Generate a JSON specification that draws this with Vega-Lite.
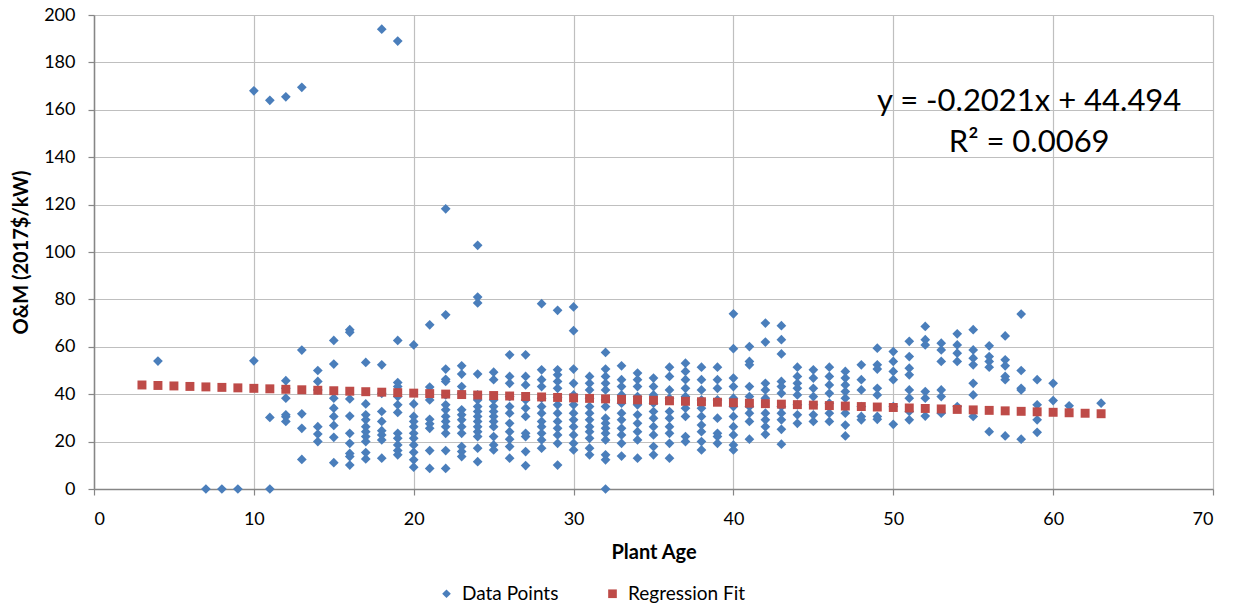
{
  "$schema": "https://vega.github.io/schema/vega-lite/v6.json",
  "width": 1119,
  "height": 474,
  "autosize": {"type": "none"},
  "padding": {"left": 94, "top": 15, "right": 21, "bottom": 116},
  "background": "white",
  "config": {
    "font": "Lato",
    "view": {"stroke": null},
    "axis": {
      "labelFont": "Lato", "labelFontSize": 18, "labelColor": "#000000",
      "titleFont": "Lato", "titleFontSize": 20, "titleFontWeight": "bold", "titleColor": "#000000",
      "gridColor": "#BFBFBF", "gridWidth": 1.2,
      "domainColor": "#868686", "domainWidth": 1.5,
      "tickColor": "#868686", "tickSize": 6, "tickWidth": 1.2,
      "labelPadding": 13
    },
    "legend": {"labelFont": "Lato", "labelFontSize": 19, "labelColor": "#000000"}
  },
  "datasets": {
    "pts": [
      {"age":4,"om":54},
      {"age":7,"om":0},{"age":8,"om":0},{"age":9,"om":0},
      {"age":10,"om":168},{"age":10,"om":54.1},
      {"age":11,"om":164},{"age":11,"om":30.2},{"age":11,"om":0},
      {"age":12,"om":165.5},{"age":12,"om":45.7},{"age":12,"om":42.5},{"age":12,"om":38.3},{"age":12,"om":31.3},{"age":12,"om":30.5},{"age":12,"om":28.5},
      {"age":13,"om":169.5},{"age":13,"om":58.6},{"age":13,"om":31.7},{"age":13,"om":25.6},{"age":13,"om":12.5},
      {"age":14,"om":50},{"age":14,"om":45.4},{"age":14,"om":41.8},{"age":14,"om":26.3},{"age":14,"om":23.2},{"age":14,"om":20},
      {"age":15,"om":62.7},{"age":15,"om":52.7},{"age":15,"om":38.3},{"age":15,"om":34.1},{"age":15,"om":30.6},{"age":15,"om":26.8},{"age":15,"om":21.8},{"age":15,"om":11.1},
      {"age":16,"om":67.2},{"age":16,"om":66.1},{"age":16,"om":38},{"age":16,"om":30.8},{"age":16,"om":23.5},{"age":16,"om":19.3},{"age":16,"om":15},{"age":16,"om":13.7},{"age":16,"om":10.1},
      {"age":17,"om":53.4},{"age":17,"om":35.9},{"age":17,"om":31.3},{"age":17,"om":29.2},{"age":17,"om":26.3},{"age":17,"om":24.2},{"age":17,"om":22.1},{"age":17,"om":20},{"age":17,"om":15.4},{"age":17,"om":12.7},
      {"age":18,"om":194},{"age":18,"om":52.4},{"age":18,"om":40.4},{"age":18,"om":32.7},{"age":18,"om":28.5},{"age":18,"om":24.6},{"age":18,"om":22.8},{"age":18,"om":20.7},{"age":18,"om":13},
      {"age":19,"om":189},{"age":19,"om":62.7},{"age":19,"om":44.9},{"age":19,"om":43.2},{"age":19,"om":39},{"age":19,"om":35.5},{"age":19,"om":32.3},{"age":19,"om":23.5},{"age":19,"om":21.4},{"age":19,"om":18.6},{"age":19,"om":16.2},{"age":19,"om":14.4},
      {"age":20,"om":60.8},{"age":20,"om":35.9},{"age":20,"om":30.6},{"age":20,"om":28.5},{"age":20,"om":26.3},{"age":20,"om":23.5},{"age":20,"om":21.4},{"age":20,"om":18.6},{"age":20,"om":15.5},{"age":20,"om":12.3},{"age":20,"om":9.2},
      {"age":21,"om":69.3},{"age":21,"om":43},{"age":21,"om":37.6},{"age":21,"om":29.4},{"age":21,"om":27.5},{"age":21,"om":25.6},{"age":21,"om":16.2},{"age":21,"om":8.7},
      {"age":22,"om":118.2},{"age":22,"om":73.5},{"age":22,"om":50.6},{"age":22,"om":46.3},{"age":22,"om":45.4},{"age":22,"om":39.7},{"age":22,"om":35.5},{"age":22,"om":33.4},{"age":22,"om":30.6},{"age":22,"om":28.5},{"age":22,"om":26.3},{"age":22,"om":23.5},{"age":22,"om":16.2},{"age":22,"om":8.7},
      {"age":23,"om":52},{"age":23,"om":48.5},{"age":23,"om":43.2},{"age":23,"om":40.4},{"age":23,"om":33.4},{"age":23,"om":31.3},{"age":23,"om":29.2},{"age":23,"om":26.3},{"age":23,"om":23.5},{"age":23,"om":17.9},{"age":23,"om":15.8},{"age":23,"om":13.7},
      {"age":24,"om":102.8},{"age":24,"om":81},{"age":24,"om":78.5},{"age":24,"om":48.5},{"age":24,"om":39.7},{"age":24,"om":37.6},{"age":24,"om":34.8},{"age":24,"om":32.7},{"age":24,"om":30.6},{"age":24,"om":28.5},{"age":24,"om":26.3},{"age":24,"om":24.2},{"age":24,"om":22.1},{"age":24,"om":17.2},{"age":24,"om":11.5},
      {"age":25,"om":49.3},{"age":25,"om":46.1},{"age":25,"om":37.6},{"age":25,"om":34.8},{"age":25,"om":32.7},{"age":25,"om":30.6},{"age":25,"om":28.5},{"age":25,"om":26.3},{"age":25,"om":22.1},{"age":25,"om":18.6},{"age":25,"om":16.5},
      {"age":26,"om":56.6},{"age":26,"om":47.5},{"age":26,"om":44.6},{"age":26,"om":39},{"age":26,"om":34.8},{"age":26,"om":32},{"age":26,"om":27.7},{"age":26,"om":24.2},{"age":26,"om":21},{"age":26,"om":17.9},{"age":26,"om":13},
      {"age":27,"om":56.6},{"age":27,"om":47.5},{"age":27,"om":43.9},{"age":27,"om":37.6},{"age":27,"om":34.1},{"age":27,"om":30.6},{"age":27,"om":23.5},{"age":27,"om":22.1},{"age":27,"om":15.8},{"age":27,"om":9.9},
      {"age":28,"om":78.2},{"age":28,"om":50.3},{"age":28,"om":46.1},{"age":28,"om":43.2},{"age":28,"om":38.3},{"age":28,"om":34.8},{"age":28,"om":32},{"age":28,"om":28.5},{"age":28,"om":26.3},{"age":28,"om":23.5},{"age":28,"om":20.7},{"age":28,"om":17.2},
      {"age":29,"om":75.4},{"age":29,"om":50.3},{"age":29,"om":48.2},{"age":29,"om":45.4},{"age":29,"om":42.5},{"age":29,"om":38.7},{"age":29,"om":35.5},{"age":29,"om":32},{"age":29,"om":28.5},{"age":29,"om":25.6},{"age":29,"om":22.8},{"age":29,"om":19.3},{"age":29,"om":10.1},
      {"age":30,"om":76.8},{"age":30,"om":66.8},{"age":30,"om":50.6},{"age":30,"om":44.6},{"age":30,"om":39.7},{"age":30,"om":35.5},{"age":30,"om":32},{"age":30,"om":29.2},{"age":30,"om":26.3},{"age":30,"om":22.8},{"age":30,"om":19.3},{"age":30,"om":16.5},
      {"age":31,"om":47.5},{"age":31,"om":44.6},{"age":31,"om":41.8},{"age":31,"om":38.3},{"age":31,"om":34.8},{"age":31,"om":32},{"age":31,"om":29.2},{"age":31,"om":26.3},{"age":31,"om":24.2},{"age":31,"om":21.4},{"age":31,"om":17.2},{"age":31,"om":14.4},
      {"age":32,"om":57.6},{"age":32,"om":50.6},{"age":32,"om":47.5},{"age":32,"om":44.6},{"age":32,"om":41.8},{"age":32,"om":37.6},{"age":32,"om":34.8},{"age":32,"om":29.9},{"age":32,"om":27.7},{"age":32,"om":25.6},{"age":32,"om":23.5},{"age":32,"om":20.7},{"age":32,"om":14.4},{"age":32,"om":12.3},{"age":32,"om":0},
      {"age":33,"om":52},{"age":33,"om":46.1},{"age":33,"om":43.2},{"age":33,"om":39.7},{"age":33,"om":36.2},{"age":33,"om":32},{"age":33,"om":29.2},{"age":33,"om":25.6},{"age":33,"om":22.8},{"age":33,"om":19.3},{"age":33,"om":13.9},
      {"age":34,"om":48.9},{"age":34,"om":46.1},{"age":34,"om":43.2},{"age":34,"om":39},{"age":34,"om":35.5},{"age":34,"om":31.3},{"age":34,"om":27.7},{"age":34,"om":24.2},{"age":34,"om":20.7},{"age":34,"om":13},
      {"age":35,"om":46.8},{"age":35,"om":43.2},{"age":35,"om":39.7},{"age":35,"om":36.2},{"age":35,"om":32.7},{"age":35,"om":29.9},{"age":35,"om":26.3},{"age":35,"om":22.8},{"age":35,"om":17.9},{"age":35,"om":14.4},
      {"age":36,"om":51.4},{"age":36,"om":47.5},{"age":36,"om":41.8},{"age":36,"om":38.3},{"age":36,"om":32.7},{"age":36,"om":29.9},{"age":36,"om":26.3},{"age":36,"om":23.5},{"age":36,"om":19.3},{"age":36,"om":13},
      {"age":37,"om":53.1},{"age":37,"om":49.6},{"age":37,"om":46.1},{"age":37,"om":42.5},{"age":37,"om":39},{"age":37,"om":34.1},{"age":37,"om":30.6},{"age":37,"om":22.1},{"age":37,"om":20},
      {"age":38,"om":51.4},{"age":38,"om":46.1},{"age":38,"om":41.8},{"age":38,"om":37.6},{"age":38,"om":34.1},{"age":38,"om":30.6},{"age":38,"om":27},{"age":38,"om":24.2},{"age":38,"om":20},{"age":38,"om":16.5},
      {"age":39,"om":51.4},{"age":39,"om":46.1},{"age":39,"om":42.5},{"age":39,"om":37.6},{"age":39,"om":29.9},{"age":39,"om":23.5},{"age":39,"om":22.1},{"age":39,"om":19.3},
      {"age":40,"om":73.9},{"age":40,"om":59.2},{"age":40,"om":46.8},{"age":40,"om":43.2},{"age":40,"om":38.3},{"age":40,"om":34.8},{"age":40,"om":30.6},{"age":40,"om":26.3},{"age":40,"om":22.8},{"age":40,"om":18.6},{"age":40,"om":16.5},
      {"age":41,"om":60.1},{"age":41,"om":53.8},{"age":41,"om":52.4},{"age":41,"om":43.2},{"age":41,"om":39},{"age":41,"om":34.8},{"age":41,"om":32},{"age":41,"om":28.5},{"age":41,"om":21},
      {"age":42,"om":70},{"age":42,"om":62},{"age":42,"om":44.6},{"age":42,"om":41.8},{"age":42,"om":38.3},{"age":42,"om":32},{"age":42,"om":29.2},{"age":42,"om":26.3},{"age":42,"om":23.1},
      {"age":43,"om":68.9},{"age":43,"om":63},{"age":43,"om":57},{"age":43,"om":45.4},{"age":43,"om":43.2},{"age":43,"om":40.4},{"age":43,"om":34.8},{"age":43,"om":32},{"age":43,"om":29.2},{"age":43,"om":25.2},{"age":43,"om":18.9},
      {"age":44,"om":51.4},{"age":44,"om":47.5},{"age":44,"om":44.6},{"age":44,"om":42.5},{"age":44,"om":39.7},{"age":44,"om":35.5},{"age":44,"om":31.3},{"age":44,"om":27.7},
      {"age":45,"om":50.3},{"age":45,"om":46.8},{"age":45,"om":42.5},{"age":45,"om":39},{"age":45,"om":35.5},{"age":45,"om":31.3},{"age":45,"om":28.5},
      {"age":46,"om":51.4},{"age":46,"om":47.5},{"age":46,"om":43.9},{"age":46,"om":40.4},{"age":46,"om":36.2},{"age":46,"om":32},{"age":46,"om":28.5},
      {"age":47,"om":49.6},{"age":47,"om":46.8},{"age":47,"om":43.9},{"age":47,"om":41.1},{"age":47,"om":38.3},{"age":47,"om":32},{"age":47,"om":27},{"age":47,"om":22.4},
      {"age":48,"om":52.4},{"age":48,"om":46.1},{"age":48,"om":41.8},{"age":48,"om":34.8},{"age":48,"om":30.6},{"age":48,"om":29.2},
      {"age":49,"om":59.4},{"age":49,"om":52.4},{"age":49,"om":50.6},{"age":49,"om":42.5},{"age":49,"om":39.7},{"age":49,"om":30.6},{"age":49,"om":29.4},
      {"age":50,"om":58},{"age":50,"om":53.8},{"age":50,"om":49.6},{"age":50,"om":46.1},{"age":50,"om":34.8},{"age":50,"om":27.3},
      {"age":51,"om":62.3},{"age":51,"om":55.9},{"age":51,"om":51},{"age":51,"om":48.2},{"age":51,"om":41.8},{"age":51,"om":38.3},{"age":51,"om":32.7},{"age":51,"om":29.2},
      {"age":52,"om":68.6},{"age":52,"om":63},{"age":52,"om":60.8},{"age":52,"om":41.1},{"age":52,"om":38.3},{"age":52,"om":30.8},
      {"age":53,"om":61.5},{"age":53,"om":58.7},{"age":53,"om":53.8},{"age":53,"om":41.8},{"age":53,"om":39},{"age":53,"om":32},
      {"age":54,"om":65.5},{"age":54,"om":60.8},{"age":54,"om":57.3},{"age":54,"om":53.8},{"age":54,"om":34.8},
      {"age":55,"om":67.2},{"age":55,"om":58.7},{"age":55,"om":55.2},{"age":55,"om":52.4},{"age":55,"om":44.6},{"age":55,"om":39.7},{"age":55,"om":30.6},
      {"age":56,"om":60.4},{"age":56,"om":55.9},{"age":56,"om":53.8},{"age":56,"om":51.4},{"age":56,"om":24.2},
      {"age":57,"om":64.6},{"age":57,"om":54.5},{"age":57,"om":52},{"age":57,"om":47.5},{"age":57,"om":46.1},{"age":57,"om":22.4},
      {"age":58,"om":73.8},{"age":58,"om":50},{"age":58,"om":42.5},{"age":58,"om":41.8},{"age":58,"om":21},
      {"age":59,"om":46.1},{"age":59,"om":35.5},{"age":59,"om":29.2},{"age":59,"om":23.9},
      {"age":60,"om":44.6},{"age":60,"om":37.3},
      {"age":61,"om":35.1},
      {"age":63,"om":36.2}
    ],
    "fit": [
      {"age":3,"om":43.888},{"age":4,"om":43.686},{"age":5,"om":43.484},{"age":6,"om":43.281},{"age":7,"om":43.079},{"age":8,"om":42.877},{"age":9,"om":42.675},{"age":10,"om":42.473},{"age":11,"om":42.271},{"age":12,"om":42.069},{"age":13,"om":41.867},{"age":14,"om":41.665},{"age":15,"om":41.463},{"age":16,"om":41.26},{"age":17,"om":41.058},{"age":18,"om":40.856},{"age":19,"om":40.654},{"age":20,"om":40.452},{"age":21,"om":40.25},{"age":22,"om":40.048},{"age":23,"om":39.846},{"age":24,"om":39.644},{"age":25,"om":39.442},{"age":26,"om":39.24},{"age":27,"om":39.037},{"age":28,"om":38.835},{"age":29,"om":38.633},{"age":30,"om":38.431},{"age":31,"om":38.229},{"age":32,"om":38.027},{"age":33,"om":37.825},{"age":34,"om":37.623},{"age":35,"om":37.421},{"age":36,"om":37.218},{"age":37,"om":37.016},{"age":38,"om":36.814},{"age":39,"om":36.612},{"age":40,"om":36.41},{"age":41,"om":36.208},{"age":42,"om":36.006},{"age":43,"om":35.804},{"age":44,"om":35.602},{"age":45,"om":35.4},{"age":46,"om":35.197},{"age":47,"om":34.995},{"age":48,"om":34.793},{"age":49,"om":34.591},{"age":50,"om":34.389},{"age":51,"om":34.187},{"age":52,"om":33.985},{"age":53,"om":33.783},{"age":54,"om":33.581},{"age":55,"om":33.379},{"age":56,"om":33.176},{"age":57,"om":32.974},{"age":58,"om":32.772},{"age":59,"om":32.57},{"age":60,"om":32.368},{"age":61,"om":32.166},{"age":62,"om":31.964},{"age":63,"om":31.762}
    ],
    "eq": [
      {"age":58.5,"om":163.5,"label":"y = -0.2021x + 44.494"},
      {"age":58.5,"om":146,"label":"R² = 0.0069"}
    ]
  },
  "layer": [
    {
      "data": {"name": "pts"},
      "mark": {"type": "point", "filled": true, "opacity": 1, "size": 95},
      "encoding": {
        "x": {"field": "age", "type": "quantitative", "title": "Plant Age",
              "scale": {"domain": [0, 70], "nice": false, "zero": true},
              "axis": {"values": [0,10,20,30,40,50,60,70], "titlePadding": 14, "labelPadding": 15}},
        "y": {"field": "om", "type": "quantitative", "title": "O&M (2017$/kW)",
              "scale": {"domain": [0, 200], "nice": false},
              "axis": {"values": [0,20,40,60,80,100,120,140,160,180,200], "titlePadding": 12}},
        "color": {"datum": "Data Points", "type": "nominal",
                  "scale": {"domain": ["Data Points", "Regression Fit"], "range": ["#4A7EBB", "#BE4B48"]},
                  "legend": {"title": null, "orient": "none", "legendX": 343, "legendY": 569, "direction": "horizontal", "columnPadding": 44, "symbolSize": 75, "labelOffset": 6}},
        "shape": {"datum": "Data Points", "type": "nominal",
                  "scale": {"domain": ["Data Points", "Regression Fit"], "range": ["diamond", "square"]},
                  "legend": {"title": null, "orient": "none", "legendX": 343, "legendY": 569, "direction": "horizontal", "columnPadding": 44, "symbolSize": 75, "labelOffset": 6}}
      }
    },
    {
      "data": {"name": "fit"},
      "mark": {"type": "point", "filled": true, "opacity": 1, "size": 80},
      "encoding": {
        "x": {"field": "age", "type": "quantitative"},
        "y": {"field": "om", "type": "quantitative"},
        "color": {"datum": "Regression Fit", "type": "nominal"},
        "shape": {"datum": "Regression Fit", "type": "nominal"}
      }
    },
    {
      "data": {"name": "eq"},
      "mark": {"type": "text", "font": "Lato", "fontSize": 31, "align": "center", "baseline": "middle", "color": "#000000"},
      "encoding": {
        "x": {"field": "age", "type": "quantitative"},
        "y": {"field": "om", "type": "quantitative"},
        "text": {"field": "label"}
      }
    }
  ]
}
